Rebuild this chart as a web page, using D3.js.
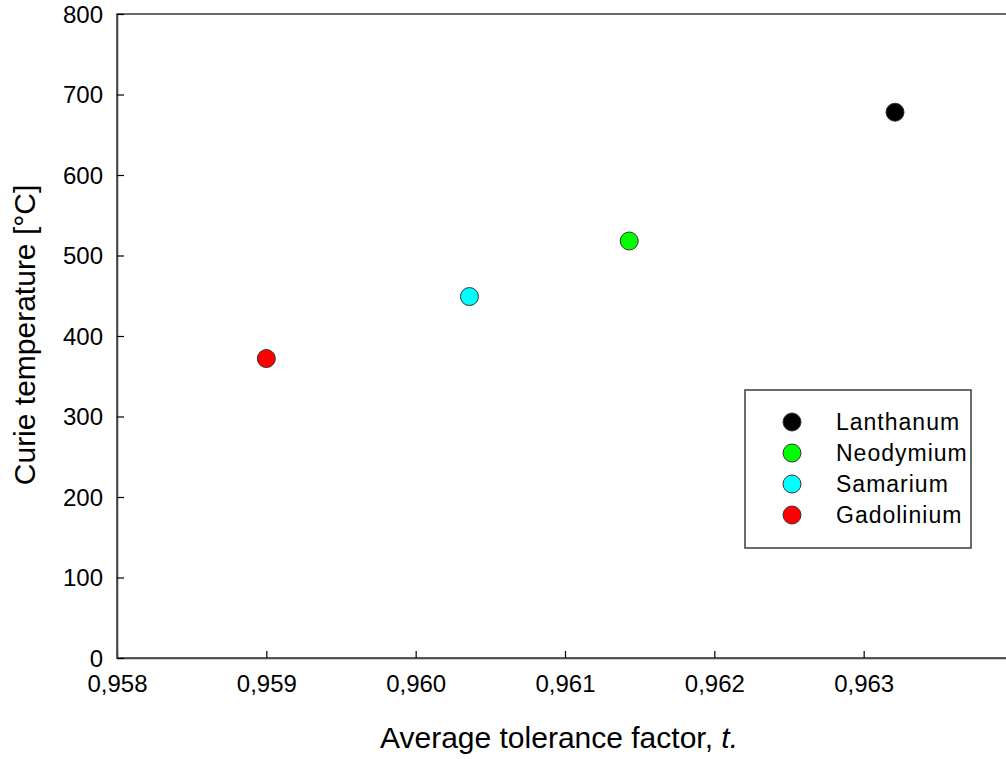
<!DOCTYPE html>
<html>
<head>
<meta charset="utf-8">
<script src="https://cdn.jsdelivr.net/npm/d3@7"></script>
<style>
  body { margin: 0; background: #fff; }
  #chart { width: 1006px; height: 759px; }
  text { font-family: "Liberation Sans", Arial, sans-serif; fill: #000; }
</style>
</head>
<body>
<div id="chart"></div>
<script>
// values
const elements = ["Lanthanum", "Neodymium", "Samarium", "Gadolinium"];
const tolerance = [0.96321, 0.96143, 0.96036, 0.959];
const curieTemp = [678, 518, 449, 372];
const colors = ["#000000", "#00ff00", "#00ffff", "#ff0000"];
const xTicks = [0.958, 0.959, 0.96, 0.961, 0.962, 0.963];
const yTicks = [0, 100, 200, 300, 400, 500, 600, 700, 800];

const width = 1006, height = 759;
const margin = { left: 117, top: 14 };
const innerWidth = 896;   // plot runs past the right edge of the picture
const innerHeight = 644;
const axisColor = "#474747";

const svg = d3.select("#chart").append("svg")
  .attr("width", width)
  .attr("height", height);

const mainGroup = svg.append("g")
  .attr("transform", `translate(${margin.left},${margin.top})`);

const xScale = d3.scaleLinear().domain([0.958, 0.964]).range([0, innerWidth]);
const yScale = d3.scaleLinear().domain([0, 800]).range([innerHeight, 0]);

// frame
mainGroup.append("rect")
  .attr("x", 0).attr("y", 0)
  .attr("width", innerWidth).attr("height", innerHeight)
  .attr("fill", "none")
  .attr("stroke", axisColor)
  .attr("stroke-width", 1.6);

const xAxis = d3.axisBottom(xScale)
  .tickValues(xTicks)
  .tickSize(-7)
  .tickSizeOuter(0)
  .tickPadding(17)
  .tickFormat(d => d3.format(".3f")(d).replace(".", ","));

const yAxis = d3.axisLeft(yScale)
  .tickValues(yTicks)
  .tickSize(-7)
  .tickSizeOuter(0)
  .tickPadding(14)
  .tickFormat(d3.format("d"));

const gx = mainGroup.append("g")
  .attr("transform", `translate(0,${innerHeight})`)
  .call(xAxis);
const gy = mainGroup.append("g").call(yAxis);

[gx, gy].forEach(g => {
  g.select(".domain").attr("stroke", axisColor).attr("stroke-width", 1.6);
  g.selectAll(".tick line").attr("stroke", "#000").attr("stroke-width", 1.2);
  g.selectAll(".tick text")
    .attr("font-size", 24)
    .attr("font-family", "Liberation Sans, Arial, sans-serif")
    .attr("fill", "#000");
});
gy.selectAll(".tick text").attr("dy", "0.35em");

// points
const points = elements.map((e, i) => ({ name: e, t: tolerance[i], tc: curieTemp[i], color: colors[i] }));

mainGroup.selectAll("circle.pt")
  .data(points)
  .join("circle")
  .attr("class", "pt")
  .attr("cx", d => xScale(d.t))
  .attr("cy", d => yScale(d.tc))
  .attr("r", 9)
  .attr("fill", d => d.color)
  .attr("stroke", "#333")
  .attr("stroke-width", 1);

// legend
const legend = svg.append("g").attr("transform", "translate(745,390)");
legend.append("rect")
  .attr("width", 226).attr("height", 158)
  .attr("fill", "#fff")
  .attr("stroke", axisColor)
  .attr("stroke-width", 1.6);

const rows = legend.selectAll("g.row")
  .data(points)
  .join("g")
  .attr("class", "row")
  .attr("transform", (d, i) => `translate(0,${32 + i * 31})`);

rows.append("circle")
  .attr("cx", 47)
  .attr("r", 9)
  .attr("fill", d => d.color)
  .attr("stroke", "#333")
  .attr("stroke-width", 1);

rows.append("text")
  .attr("x", 91)
  .attr("dy", "0.36em")
  .attr("font-size", 23)
  .attr("letter-spacing", 1)
  .text(d => d.name);

// axis titles
svg.append("text")
  .attr("x", 559)
  .attr("y", 748)
  .attr("text-anchor", "middle")
  .attr("font-size", 30)
  .html('Average tolerance factor, <tspan font-style="italic">t.</tspan>');

svg.append("text")
  .attr("transform", "translate(35,335) rotate(-90)")
  .attr("text-anchor", "middle")
  .attr("font-size", 30)
  .text("Curie temperature [°C]");
</script>
</body>
</html>
